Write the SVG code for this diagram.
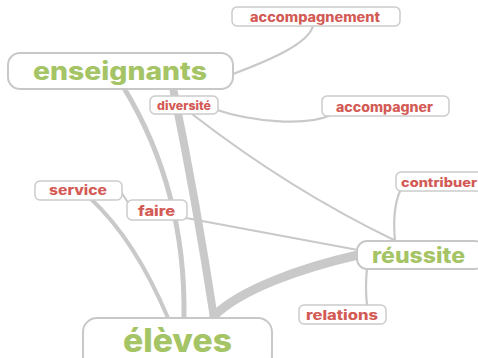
<svg xmlns="http://www.w3.org/2000/svg" width="478" height="358" viewBox="0 0 478 358">
<style>
.bg{fill:#ffffff}
.box{fill:#ffffff;stroke:#cbcbcb;stroke-width:1.5}
.main{fill:#ffffff;stroke:#c8c8c8;stroke-width:2}
.lnk{fill:none;stroke:#c8c9c8;stroke-linecap:round}
.g{fill:#a5c465;font-family:Inter,"Liberation Sans",sans-serif;font-weight:800;text-anchor:middle}
.r{fill:#d35a55;font-family:Inter,"Liberation Sans",sans-serif;font-weight:800;text-anchor:middle}
</style>
<rect class="bg" x="0" y="0" width="478" height="358"/>
<g id="connectors">
<path class="lnk" stroke-width="8" d="M173,88 Q196,200 214,318"/>
<path class="lnk" stroke-width="5" d="M124,88 Q186,190 184,318"/>
<path class="lnk" stroke-width="4" d="M91,199 Q135,240 168,318"/>
<path class="lnk" stroke-width="9" d="M358,255 C300,268 240,290 214,316"/>
<path class="lnk" stroke-width="2.2" d="M121,192 L129,204"/>
<path class="lnk" stroke-width="2.2" d="M186,218 L358,250"/>
<path class="lnk" stroke-width="2.2" d="M192,114 Q290,190 396,241"/>
<path class="lnk" stroke-width="2.2" d="M217,110 C250,121 305,127 331,115"/>
<path class="lnk" stroke-width="2.2" d="M233,74 C270,60 308,44 313,26"/>
<path class="lnk" stroke-width="2.2" d="M395,241 Q392,210 400,191"/>
<path class="lnk" stroke-width="2.2" d="M367,268 Q365,288 367,305"/>
</g>
<g id="enseignants">
<rect class="main" x="8" y="53" width="225" height="36" rx="12"/>
<text class="g" x="120" y="80" font-size="25" textLength="174" lengthAdjust="spacingAndGlyphs">enseignants</text>
</g>
<g id="accompagnement">
<rect class="box" x="232" y="7" width="168" height="19" rx="5"/>
<text class="r" x="315" y="22" font-size="13" textLength="130" lengthAdjust="spacingAndGlyphs">accompagnement</text>
</g>
<g id="diversite">
<rect class="box" x="150" y="96" width="68" height="18" rx="5"/>
<text class="r" x="184" y="110" font-size="12" textLength="54" lengthAdjust="spacingAndGlyphs">diversité</text>
</g>
<g id="accompagner">
<rect class="box" x="322" y="96" width="127" height="20" rx="5"/>
<text class="r" x="384.5" y="112" font-size="13" textLength="97" lengthAdjust="spacingAndGlyphs">accompagner</text>
</g>
<g id="contribuer">
<rect class="box" x="396" y="172" width="92" height="19" rx="5"/>
<text class="r" x="439" y="187" font-size="12.5" textLength="76" lengthAdjust="spacingAndGlyphs">contribuer</text>
</g>
<g id="reussite">
<rect class="main" x="357" y="241" width="128" height="28" rx="10"/>
<text class="g" x="418.5" y="263" font-size="21" textLength="93" lengthAdjust="spacingAndGlyphs">réussite</text>
</g>
<g id="relations">
<rect class="box" x="299" y="305" width="87" height="19" rx="5"/>
<text class="r" x="342" y="320" font-size="13" textLength="72" lengthAdjust="spacingAndGlyphs">relations</text>
</g>
<g id="service">
<rect class="box" x="35" y="181" width="87" height="19" rx="5"/>
<text class="r" x="78" y="195" font-size="13" textLength="58" lengthAdjust="spacingAndGlyphs">service</text>
</g>
<g id="faire">
<rect class="box" x="127" y="200" width="60" height="20" rx="5"/>
<text class="r" x="156.5" y="215.5" font-size="14" textLength="37" lengthAdjust="spacingAndGlyphs">faire</text>
</g>
<g id="eleves">
<rect class="main" x="83" y="318" width="189" height="52" rx="14"/>
<text class="g" x="177.5" y="352" font-size="32" textLength="109" lengthAdjust="spacingAndGlyphs">élèves</text>
</g>
</svg>
